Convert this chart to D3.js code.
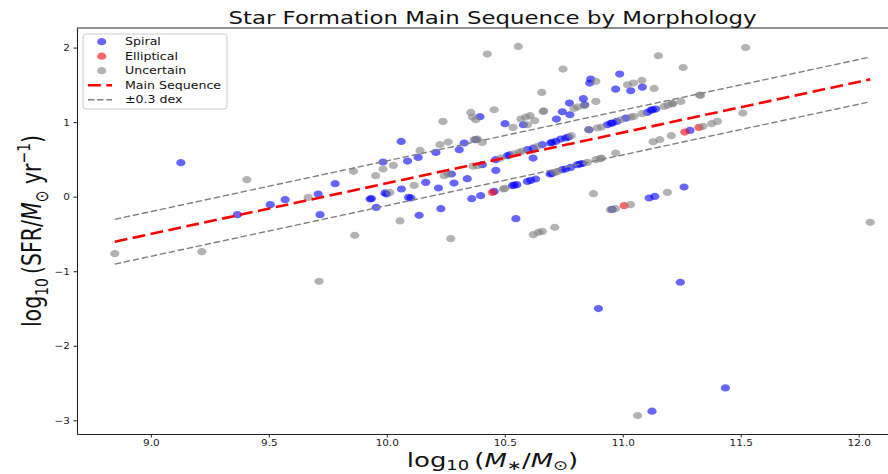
<!DOCTYPE html>
<html>
<head>
<meta charset="utf-8">
<script src="https://cdn.jsdelivr.net/npm/d3@7"></script>
<style>
body { margin: 0; background: #fff; }
svg { display: block; font-family: "DejaVu Sans", sans-serif; }
</style>
</head>
<body>
<svg id="chart"></svg>
<script>
// values
var spiralX = [9.127, 9.367, 9.506, 9.569, 9.709, 9.717, 9.781, 9.929, 9.935, 9.955, 9.984, 9.992, 9.999, 10.061, 10.062, 10.088, 10.092, 10.102, 10.133, 10.137, 10.165, 10.208, 10.219, 10.229, 10.274, 10.285, 10.307, 10.328, 10.341, 10.360, 10.377, 10.395, 10.398, 10.405, 10.455, 10.461, 10.462, 10.501, 10.511, 10.520, 10.532, 10.540, 10.547, 10.551, 10.579, 10.596, 10.596, 10.610, 10.620, 10.621, 10.631, 10.659, 10.692, 10.695, 10.700, 10.700, 10.716, 10.719, 10.737, 10.744, 10.744, 10.758, 10.758, 10.770, 10.774, 10.776, 10.780, 10.808, 10.819, 10.830, 10.833, 10.839, 10.857, 10.860, 10.864, 10.897, 10.935, 10.950, 10.955, 10.956, 10.970, 10.975, 10.987, 11.013, 11.034, 11.083, 11.104, 11.112, 11.120, 11.124, 11.126, 11.136, 11.140, 11.244, 11.260, 11.285, 11.435];
var spiralY = [0.456, -0.241, -0.107, -0.040, 0.036, -0.241, 0.174, -0.031, -0.025, -0.143, 0.465, 0.050, 0.036, 0.741, 0.103, 0.478, -0.010, -0.017, 0.527, -0.250, 0.192, 0.594, 0.116, -0.161, 0.304, 0.183, 0.630, 0.720, 0.241, -0.027, 0.764, 1.073, 0.013, 0.429, 0.071, 0.496, 0.353, 0.979, 0.549, 0.560, 0.147, 0.155, -0.295, 0.161, 0.965, 0.630, 0.205, 0.219, 0.518, 0.652, 0.237, 0.697, 0.304, 0.720, 0.730, 0.310, 0.741, 1.041, 0.773, 1.139, 0.362, 0.787, 0.371, 0.800, 1.256, 1.099, 0.393, 0.429, 0.438, 0.445, 1.314, 1.233, 0.898, 1.524, 1.577, -1.501, 0.965, 0.985, -0.170, 0.988, 1.443, 1.010, 1.645, 1.054, 1.421, 1.470, 1.130, -0.018, 1.160, -2.878, 1.166, 0.004, 1.175, -1.148, 0.130, 0.889, -2.565];

var ellipticalX = [10.448, 11.006, 11.263, 11.323];
var ellipticalY = [0.058, -0.121, 0.867, 0.929];

var uncertainX = [8.847, 9.216, 9.407, 9.667, 9.713, 9.859, 9.864, 9.953, 9.984, 10.013, 10.028, 10.056, 10.116, 10.141, 10.225, 10.238, 10.243, 10.260, 10.260, 10.271, 10.356, 10.363, 10.365, 10.370, 10.377, 10.384, 10.384, 10.405, 10.426, 10.455, 10.483, 10.494, 10.500, 10.535, 10.539, 10.557, 10.561, 10.568, 10.575, 10.589, 10.596, 10.607, 10.621, 10.627, 10.638, 10.643, 10.657, 10.659, 10.663, 10.665, 10.712, 10.712, 10.723, 10.747, 10.782, 10.793, 10.808, 10.836, 10.850, 10.855, 10.876, 10.886, 10.886, 10.886, 10.892, 10.905, 10.910, 10.910, 10.948, 10.969, 10.970, 10.992, 11.020, 11.033, 11.034, 11.045, 11.047, 11.063, 11.081, 11.081, 11.129, 11.133, 11.151, 11.157, 11.175, 11.189, 11.192, 11.206, 11.210, 11.211, 11.246, 11.256, 11.326, 11.330, 11.340, 11.377, 11.401, 11.509, 11.521, 12.049];
var uncertainY = [-0.764, -0.737, 0.228, -0.010, -1.135, 0.340, -0.518, 0.281, 0.371, 0.058, 0.420, -0.326, 0.151, 0.620, 0.697, 1.010, 0.281, 0.733, 0.304, -0.563, 1.130, 1.068, 0.410, 0.764, 1.032, 0.773, 0.415, 0.728, 1.913, 1.166, 0.518, 0.103, 0.110, 0.929, 0.576, 2.015, 0.594, 1.041, 0.612, 1.068, 0.965, 1.086, -0.509, 1.019, 0.674, -0.478, 1.398, -0.465, 1.143, 1.150, -0.411, 0.326, 0.335, 1.712, 0.818, 1.184, 1.202, 1.220, 0.460, 0.900, 0.040, 1.546, 1.278, 0.496, 0.921, 0.510, 0.934, 0.518, -0.174, -0.161, 0.585, 1.032, 1.501, -0.107, 1.068, 1.524, 1.077, -2.936, 1.559, 1.113, 0.737, 1.452, 1.890, 0.764, 1.210, 0.058, 1.229, 0.818, 1.250, 1.247, 1.277, 1.733, 1.363, 1.360, 0.943, 0.979, 1.010, 1.122, 2.001, -0.344];

var msSlope = 0.68, msIntercept = -6.62, msScatter = 0.3;

var xTicks = [9.0, 9.5, 10.0, 10.5, 11.0, 11.5, 12.0];
var yTicks = [-3, -2, -1, 0, 1, 2];
var legendLabels = ["Spiral", "Elliptical", "Uncertain", "Main Sequence", "\u00b10.3 dex"];

var width = 888,
    height = 474;
var padLeft = 77, padTop = 28, plotW = 831, plotH = 406;

var svg = d3.select("#chart")
  .attr("width", width)
  .attr("height", height);

var series = [
  {name: "Spiral", xs: spiralX, ys: spiralY, color: "blue"},
  {name: "Elliptical", xs: ellipticalX, ys: ellipticalY, color: "red"},
  {name: "Uncertain", xs: uncertainX, ys: uncertainY, color: "gray"}
];

var allX = spiralX.concat(ellipticalX, uncertainX);
var allY = spiralY.concat(ellipticalY, uncertainY);
var xExt = d3.extent(allX), yExt = d3.extent(allY);
var xPad = (xExt[1] - xExt[0]) * 0.05, yPad = (yExt[1] - yExt[0]) * 0.05;

var x = d3.scaleLinear()
  .domain([xExt[0] - xPad, xExt[1] + xPad])
  .range([padLeft, padLeft + plotW]);
var y = d3.scaleLinear()
  .domain([yExt[0] - yPad, yExt[1] + yPad])
  .range([padTop + plotH, padTop]);

svg.append("clipPath").attr("id", "plotclip")
  .append("rect")
  .attr("x", padLeft).attr("y", padTop)
  .attr("width", plotW).attr("height", plotH);

var plot = svg.append("g").attr("clip-path", "url(#plotclip)");

series.forEach(function(s) {
  plot.append("g")
    .selectAll("ellipse")
    .data(d3.range(s.xs.length))
    .enter().append("ellipse")
    .attr("cx", function(i) { return x(s.xs[i]); })
    .attr("cy", function(i) { return y(s.ys[i]); })
    .attr("rx", 4.6)
    .attr("ry", 3.6)
    .style("fill", s.color)
    .style("fill-opacity", 0.6);
});

var line = d3.line()
  .x(function(d) { return x(d[0]); })
  .y(function(d) { return y(d[1]); });

var msX = [xExt[0], xExt[1]];
function msLine(off) {
  return msX.map(function(v) { return [v, msSlope * v + msIntercept + off]; });
}

[msScatter, -msScatter].forEach(function(off) {
  plot.append("path")
    .attr("d", line(msLine(off)))
    .style("fill", "none")
    .style("stroke", "#808080")
    .style("stroke-width", 1.4)
    .style("stroke-dasharray", "6.4,2.8");
});

plot.append("path")
  .attr("d", line(msLine(0)))
  .style("fill", "none")
  .style("stroke", "red")
  .style("stroke-width", 2.6)
  .style("stroke-dasharray", "12.8,5.5");

// axes
var xAxis = svg.append("g")
  .attr("transform", "translate(0," + (padTop + plotH) + ")")
  .call(d3.axisBottom(x).tickValues(xTicks).tickFormat(d3.format(".1f"))
    .tickSize(3.5).tickSizeOuter(0).tickPadding(1.5));

var yAxis = svg.append("g")
  .attr("transform", "translate(" + padLeft + ",0)")
  .call(d3.axisLeft(y).tickValues(yTicks).tickFormat(d3.format("d"))
    .tickSize(3.5).tickSizeOuter(0).tickPadding(3));

[xAxis, yAxis].forEach(function(a) {
  a.select(".domain").style("stroke", "#222").style("stroke-width", 1.1);
  a.selectAll(".tick line").style("stroke", "#222").style("stroke-width", 1);
  a.selectAll(".tick text")
    .style("font-family", "DejaVu Sans")
    .style("font-size", "9.5px")
    .style("fill", "#222")
    .attr("transform", "scale(1.1,1)");
});

// top and right spines
svg.append("line")
  .attr("x1", padLeft).attr("x2", padLeft + plotW)
  .attr("y1", padTop).attr("y2", padTop)
  .style("stroke", "#222").style("stroke-width", 1.1);
svg.append("line")
  .attr("x1", padLeft + plotW).attr("x2", padLeft + plotW)
  .attr("y1", padTop).attr("y2", padTop + plotH)
  .style("stroke", "#222").style("stroke-width", 1.1);

// title
svg.append("text")
  .attr("transform", "translate(" + (padLeft + plotW / 2) + ",24) scale(1.27,1)")
  .attr("text-anchor", "middle")
  .style("font-size", "18px")
  .style("fill", "#111")
  .text("Star Formation Main Sequence by Morphology");

// x label: log10(M*/Msun)
var xl = svg.append("text")
  .attr("transform", "translate(" + (padLeft + plotW / 2) + ",466.5) scale(1.33,1)")
  .attr("text-anchor", "middle")
  .style("font-size", "19.5px")
  .style("fill", "#111");
xl.append("tspan").text("log");
xl.append("tspan").attr("dy", 3.8).style("font-size", "13.5px").text("10");
xl.append("tspan").attr("dy", -3.8).text("\u2009(");
xl.append("tspan").style("font-style", "italic").text("M");
xl.append("tspan").attr("dy", 3.5).style("font-size", "13.5px").text("\u2217");
xl.append("tspan").attr("dy", -3.5).text("/");
xl.append("tspan").style("font-style", "italic").text("M");
xl.append("tspan").attr("dy", 3.8).style("font-size", "13.5px").text("\u2299");
xl.append("tspan").attr("dy", -3.8).text(")");

// y label: log10(SFR/Msun yr^-1)
var yl = svg.append("text")
  .attr("transform", "translate(41," + (padTop + plotH / 2) + ") scale(1.3,1) rotate(-90)")
  .attr("text-anchor", "middle")
  .style("font-size", "20.5px")
  .style("fill", "#111");
yl.append("tspan").text("log");
yl.append("tspan").attr("dy", 5).style("font-size", "14px").text("10");
yl.append("tspan").attr("dy", -5).text("\u2009(SFR/");
yl.append("tspan").style("font-style", "italic").text("M");
yl.append("tspan").attr("dy", 5).style("font-size", "14px").text("\u2299");
yl.append("tspan").attr("dy", -5).text(" yr");
yl.append("tspan").attr("dy", -8.5).style("font-size", "14px").text("\u22121");
yl.append("tspan").attr("dy", 8.5).text(")");

// legend
var legend = svg.append("g").attr("transform", "translate(83,34)");
legend.append("rect")
  .attr("width", 144).attr("height", 75).attr("rx", 3)
  .style("fill", "white").style("fill-opacity", 0.8)
  .style("stroke", "#cccccc").style("stroke-width", 1);

var rows = legend.selectAll(".legend")
  .data(legendLabels)
  .enter().append("g")
  .attr("class", "legend")
  .attr("transform", function(d, i) { return "translate(0," + (7.7 + i * 14.5) + ")"; });

rows.each(function(d, i) {
  var g = d3.select(this);
  if (i < 3) {
    g.append("ellipse")
      .attr("cx", 18.7).attr("cy", 0).attr("rx", 4.6).attr("ry", 3.6)
      .style("fill", series[i].color).style("fill-opacity", 0.6);
  } else if (i === 3) {
    g.append("line").attr("x1", 5).attr("x2", 29).attr("y1", 0).attr("y2", 0)
      .style("stroke", "red").style("stroke-width", 2.6).style("stroke-dasharray", "12.8,5.5");
  } else {
    g.append("line").attr("x1", 5).attr("x2", 29).attr("y1", 0).attr("y2", 0)
      .style("stroke", "#808080").style("stroke-width", 1.4).style("stroke-dasharray", "6.4,2.8");
  }
  g.append("text")
    .attr("transform", "translate(42,0) scale(1.2,1)")
    .attr("dy", "0.36em")
    .style("font-size", "10.5px")
    .style("fill", "#111")
    .text(d);
});
</script>
</body>
</html>
